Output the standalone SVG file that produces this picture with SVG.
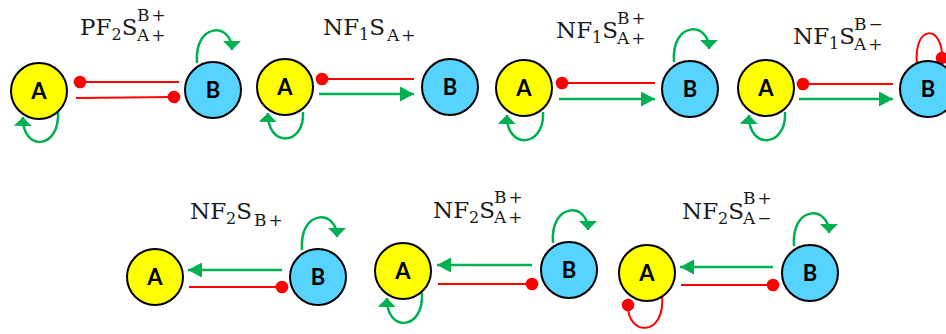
<svg xmlns="http://www.w3.org/2000/svg" width="946" height="334" viewBox="0 0 946 334">
  <defs>
    <style>
      .na { fill: #FFFF00; stroke: #000; stroke-width: 2; }
      .nb { fill: #57D3FF; stroke: #000; stroke-width: 2; }
      .lbl { font-family: Lato, "Liberation Sans", sans-serif; font-weight: bold; font-size: 22px; fill: #000; text-anchor: middle; }
      .ttl { font-family: "DejaVu Serif", "Liberation Serif", serif; font-size: 23px; fill: #1a1a1a; }
      .ttl .sc { font-size: 17px; letter-spacing: 2px; }
      .ttl .dg { font-size: 16px; }
      .act { fill: none; stroke: #00B050; stroke-width: 2.5; }
      .inh { fill: none; stroke: #FF0000; stroke-width: 2; }
      .arrow { marker-end: url(#head); }
      .loopg { marker-end: url(#loophead); }
      .dot { marker-end: url(#dot); }
    </style>
    <marker id="head" markerUnits="userSpaceOnUse" markerWidth="16" markerHeight="16" refX="14" refY="7.5" orient="auto">
      <path d="M0,0 L14,7.5 L0,15 Z" fill="#00B050"/>
    </marker>
    <marker id="loophead" markerUnits="userSpaceOnUse" markerWidth="20" markerHeight="20" refX="9" refY="9" orient="auto">
      <path d="M0,0 L9,9 L0,18 Z" fill="#00B050"/>
    </marker>
    <marker id="dot" markerUnits="userSpaceOnUse" markerWidth="14" markerHeight="14" refX="7" refY="7" orient="auto">
      <circle cx="7" cy="7" r="6.3" fill="#FF0000"/>
    </marker>
  </defs>

  <rect width="946" height="334" fill="#FFFFFF"/>

  <!-- titles: letters flow left to right, the stacked script pair shares one x -->
  <g id="titles" class="ttl">
    <text x="80" y="35">PF<tspan class="dg" dy="5">2</tspan><tspan dy="-5">S</tspan><tspan class="sc" x="137" y="21">B+</tspan><tspan class="sc" x="137" y="41">A+</tspan></text>
    <text x="323" y="35">NF<tspan class="dg" dy="5">1</tspan><tspan dy="-5">S</tspan><tspan class="sc" dx="2" dy="6">A+</tspan></text>
    <text x="556" y="38">NF<tspan class="dg" dy="5">1</tspan><tspan dy="-5">S</tspan><tspan class="sc" x="617" y="24">B+</tspan><tspan class="sc" x="617" y="44">A+</tspan></text>
    <text x="793" y="44">NF<tspan class="dg" dy="5">1</tspan><tspan dy="-5">S</tspan><tspan class="sc" x="854" y="30">B−</tspan><tspan class="sc" x="854" y="50">A+</tspan></text>
    <text x="190" y="219">NF<tspan class="dg" dy="5">2</tspan><tspan dy="-5">S</tspan><tspan class="sc" dx="2" dy="7">B+</tspan></text>
    <text x="433" y="218">NF<tspan class="dg" dy="5">2</tspan><tspan dy="-5">S</tspan><tspan class="sc" x="494" y="203">B+</tspan><tspan class="sc" x="494" y="223">A+</tspan></text>
    <text x="682" y="219">NF<tspan class="dg" dy="5">2</tspan><tspan dy="-5">S</tspan><tspan class="sc" x="743" y="204">B+</tspan><tspan class="sc" x="743" y="224">A−</tspan></text>
  </g>

  <!-- connectors -->
  <g id="connectors">
    <!-- PF2S -->
    <path class="inh dot" d="M179,82 L80,82"/>
    <path class="inh dot" d="M76,98 L174,97"/>
    <path class="act loopg" d="M58,112 C60,150 22,152 23,117"/>
    <path class="act loopg" d="M197,63 C194,22 232,22 232,50"/>
    <!-- NF1S A+ -->
    <path class="inh dot" d="M414,79 L322,79"/>
    <path class="act arrow" d="M319,94 L414,94"/>
    <path class="act loopg" d="M303,112 C305,146 267,148 268,113"/>
    <!-- NF1S B+ A+ -->
    <path class="inh dot" d="M655,83 L562,83"/>
    <path class="act arrow" d="M559,99 L655,99"/>
    <path class="act loopg" d="M543,112 C545,148 506,150 507,115"/>
    <path class="act loopg" d="M674,62 C671,21 709,21 709,49"/>
    <!-- NF1S B- A+ -->
    <path class="inh dot" d="M893,84 L803,84"/>
    <path class="act arrow" d="M799,99 L893,99"/>
    <path class="act loopg" d="M785,112 C787,148 748,150 749,115"/>
    <path class="inh dot" d="M917,65 C913,23 943,25 942,58"/>
    <!-- NF2S B+ -->
    <path class="act arrow" d="M282,270 L188,270"/>
    <path class="inh dot" d="M189,287 L282,287"/>
    <path class="act loopg" d="M302,250 C299,209 337,209 337,237"/>
    <!-- NF2S B+ A+ -->
    <path class="act arrow" d="M532,265 L437,265"/>
    <path class="inh dot" d="M438,284 L532,284"/>
    <path class="act loopg" d="M422,293 C424,331 386,333 387,298"/>
    <path class="act loopg" d="M553,243 C550,202 588,202 588,230"/>
    <!-- NF2S B+ A- -->
    <path class="act arrow" d="M773,267 L680,267"/>
    <path class="inh dot" d="M681,285 L773,285"/>
    <path class="inh dot" d="M662,295 C666,338 627,336 628,305"/>
    <path class="act loopg" d="M794,246 C791,205 829,205 829,233"/>
  </g>

  <!-- nodes -->
  <g id="p1-A"><circle class="na" cx="39" cy="91" r="28"/><text class="lbl" x="39" y="99">A</text></g>
  <g id="p1-B"><circle class="nb" cx="213" cy="90" r="28"/><text class="lbl" x="213" y="98">B</text></g>
  <g id="p2-A"><circle class="na" cx="285" cy="87" r="28"/><text class="lbl" x="285" y="95">A</text></g>
  <g id="p2-B"><circle class="nb" cx="450" cy="87" r="28"/><text class="lbl" x="450" y="95">B</text></g>
  <g id="p3-A"><circle class="na" cx="524" cy="88" r="28"/><text class="lbl" x="524" y="96">A</text></g>
  <g id="p3-B"><circle class="nb" cx="690" cy="89" r="28"/><text class="lbl" x="690" y="97">B</text></g>
  <g id="p4-A"><circle class="na" cx="766" cy="88" r="28"/><text class="lbl" x="766" y="96">A</text></g>
  <g id="p4-B"><circle class="nb" cx="928" cy="89" r="28"/><text class="lbl" x="928" y="97">B</text></g>
  <g id="p5-A"><circle class="na" cx="155" cy="277" r="28"/><text class="lbl" x="155" y="285">A</text></g>
  <g id="p5-B"><circle class="nb" cx="318" cy="277" r="28"/><text class="lbl" x="318" y="285">B</text></g>
  <g id="p6-A"><circle class="na" cx="403" cy="271" r="28"/><text class="lbl" x="403" y="279">A</text></g>
  <g id="p6-B"><circle class="nb" cx="569" cy="270" r="28"/><text class="lbl" x="569" y="278">B</text></g>
  <g id="p7-A"><circle class="na" cx="647" cy="273" r="28"/><text class="lbl" x="647" y="281">A</text></g>
  <g id="p7-B"><circle class="nb" cx="810" cy="273" r="28"/><text class="lbl" x="810" y="281">B</text></g>
</svg>
